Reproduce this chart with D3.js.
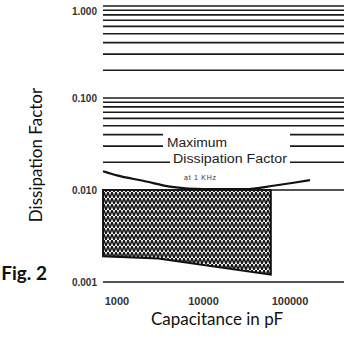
<!DOCTYPE html>
<html><head><meta charset="utf-8">
<script src="https://cdn.jsdelivr.net/npm/d3@7"></script>
<style>body{margin:0;background:#fff}svg{display:block}</style>
</head><body>
<svg id="c" width="344" height="343"></svg>
<script>
// ---- data ----
const xTicks = [1000, 10000, 100000];
const xTickLabels = ["1000", "10000", "100000"];
const yTicks = [1, 0.1, 0.01, 0.001];
const yTickLabels = ["1.000", "0.100", "0.010", "0.001"];
const gridMultipliers = [1, 2, 3, 4, 5, 6, 7, 8, 9];
const gridDecades = [1, 0.1, 0.01];
// shaded range of typical dissipation factor
const shadeCap = [690, 3000, 60000];
const shadeTop = [0.01, 0.01, 0.01];
const shadeBottom = [0.0019, 0.0018, 0.0012];
// maximum dissipation factor curve at 1 kHz
const maxCap = [690, 1000, 2000, 4300, 10000, 30000, 67000, 110000, 170000];
const maxDF  = [0.0160, 0.0144, 0.0126, 0.0108, 0.0102, 0.0102, 0.0112, 0.0120, 0.0128];

const svg = d3.select("#c");
const x = d3.scaleLog().domain([1000, 100000]).range([117, 290]);
const y = d3.scaleLog().domain([1, 0.001]).range([6, 282]);
const xL = 103, xR = 344;

// pattern
const defs = svg.append("defs");
const pat = defs.append("pattern").attr("id","zz").attr("patternUnits","userSpaceOnUse")
  .attr("width",4).attr("height",6);
pat.append("rect").attr("width",4).attr("height",6).attr("fill","#fff");
pat.append("path").attr("d","M0,0 L2,6 L4,0").attr("fill","none").attr("stroke","#151515").attr("stroke-width",1.6);

// shaded area
const area = d3.area()
  .x((d,i)=>x(shadeCap[i]))
  .y0((d,i)=>y(shadeBottom[i]))
  .y1((d,i)=>y(shadeTop[i]));
svg.append("path").datum(shadeCap).attr("d", area)
  .attr("fill","url(#zz)").attr("stroke","#111").attr("stroke-width",2);

// gridlines
const gridVals = [];
gridDecades.forEach(d => gridMultipliers.forEach(m => gridVals.push(d*m)));
gridVals.push(0.001);
svg.append("g").selectAll("line").data(gridVals).join("line")
  .attr("x1", xL).attr("x2", xR)
  .attr("y1", d=>y(d)).attr("y2", d=>y(d))
  .attr("stroke","#1a1a1a").attr("stroke-width",1.6);

// masks behind annotation text
svg.append("rect").attr("x",163).attr("y",128).attr("width",127).attr("height",24).attr("fill","#fff");
svg.append("rect").attr("x",170).attr("y",152).attr("width",120).attr("height",19).attr("fill","#fff");

// max DF curve
const line = d3.line().x((d,i)=>x(maxCap[i])).y((d,i)=>y(maxDF[i])).curve(d3.curveMonotoneX);
svg.append("path").datum(maxCap).attr("d", line)
  .attr("fill","none").attr("stroke","#111").attr("stroke-width",2.2);

// annotation
svg.append("text").attr("x",167).attr("y",147).attr("font-family","Liberation Sans Narrow, Liberation Sans, sans-serif")
  .attr("font-size",12).attr("fill","#222").attr("textLength",60).attr("lengthAdjust","spacingAndGlyphs").text("Maximum");
svg.append("text").attr("x",173).attr("y",163).attr("font-family","Liberation Sans Narrow, Liberation Sans, sans-serif")
  .attr("font-size",12).attr("fill","#222").attr("textLength",114).attr("lengthAdjust","spacingAndGlyphs").text("Dissipation Factor");
svg.append("text").attr("x",184).attr("y",180).attr("font-family","Liberation Sans, sans-serif")
  .attr("font-size",7).attr("fill","#333").attr("textLength",32).text("at 1 KHz");

// tick labels
svg.append("g").selectAll("text").data(yTicks).join("text")
  .attr("x",97).attr("y",d=>y(d)).attr("dy",(d,i)=> i===0 ? "0.9em" : "0.35em").attr("text-anchor","end")
  .attr("font-family","Liberation Sans, sans-serif").attr("font-size",10).attr("font-weight","bold")
  .attr("fill","#333").text((d,i)=>yTickLabels[i]);
svg.append("g").selectAll("text").data(xTicks).join("text")
  .attr("x",d=>x(d)).attr("y",305).attr("text-anchor","middle")
  .attr("font-family","Liberation Sans, sans-serif").attr("font-size",11).attr("font-weight","bold")
  .attr("fill","#333").text((d,i)=>xTickLabels[i]);

// axis titles
svg.append("text").attr("x",217).attr("y",325).attr("text-anchor","middle")
  .attr("font-family","Lato, sans-serif").attr("font-size",17).attr("fill","#111").text("Capacitance in pF");
svg.append("text").attr("transform","translate(42,155) rotate(-90)").attr("text-anchor","middle")
  .attr("font-family","Lato, sans-serif").attr("font-size",17).attr("fill","#111").text("Dissipation Factor");
svg.append("text").attr("x",47).attr("y",280).attr("text-anchor","end")
  .attr("font-family","Lato, sans-serif").attr("font-weight","bold").attr("font-size",19).attr("fill","#111").text("Fig. 2");
</script>
</body></html>
